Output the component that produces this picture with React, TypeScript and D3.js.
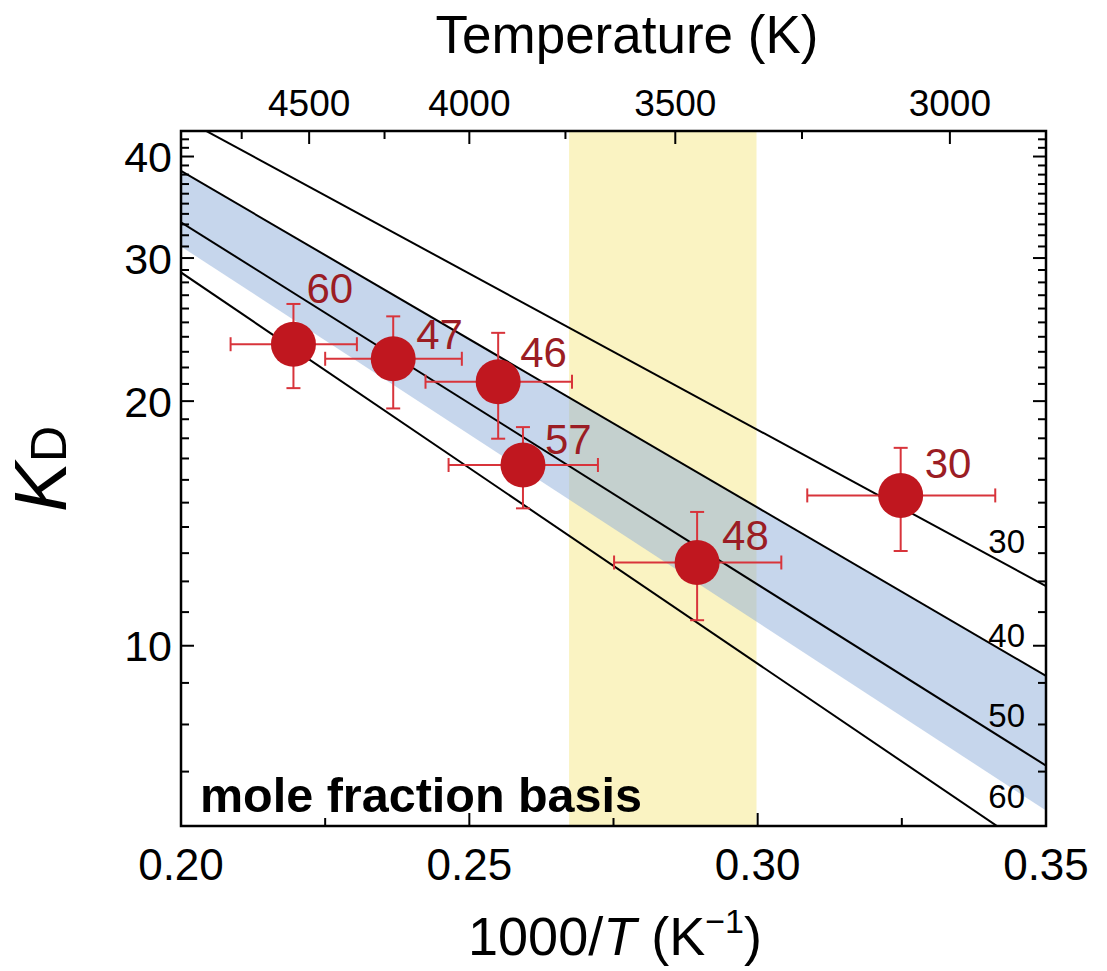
import React from "react";
import * as d3 from "d3";

// Measured partition coefficients (x = 1000/T in K^-1, K_D on a log axis)
const pointLabels = ["60", "47", "46", "57", "48", "30"];
const invT = [0.2195, 0.2368, 0.255, 0.2593, 0.2895, 0.3248];
const invTLow = [0.2086, 0.225, 0.2424, 0.2464, 0.2751, 0.3086];
const invTHigh = [0.2305, 0.2487, 0.2678, 0.2723, 0.3041, 0.3412];
const kd = [23.5, 22.55, 21.13, 16.69, 12.66, 15.31];
const kdLow = [20.75, 19.59, 17.98, 14.76, 10.75, 13.08];
const kdHigh = [26.34, 25.43, 24.27, 18.58, 14.61, 17.52];

// Model trends, K_D at the two ends of the 1000/T range
const trendLabels = ["30", "40", "50", "60"];
const trendInvT = [0.2, 0.35];
const trendStart = [44.7, 38.4, 33.2, 28.8];
const trendEnd = [11.84, 9.18, 7.12, 5.46];

// Uncertainty band: upper edge follows the "40" trend, lower edge below "50"
const bandUpper = [38.4, 9.18];
const bandLower = [31.0, 6.27];

// Highlighted 1000/T interval
const highlightRange = [0.2673, 0.2998];

// Axis ticks
const xMajor = [0.2, 0.25, 0.3, 0.35];
const xMinor = [0.225, 0.275, 0.325];
const tempMajor = [4500, 4000, 3500, 3000];
const tempMinor = [4750, 4250, 3750, 3250];
const yMajor = [10, 20, 30, 40];

// Label nudges relative to each marker (px)
const labelNudge: [number, number][] = [
  [13, -41], [23, -10], [22, -15], [22, -11], [25, -12], [24, -17],
];

const W = 1107;
const H = 971;
const L = 181, R = 1046, T = 131, B = 826;

const FONT = "'Liberation Sans', Arial, Helvetica, sans-serif";

export default function App() {
  const x = d3.scaleLinear().domain([0.2, 0.35]).range([L, R]);
  const y = d3.scaleLog().domain([6, 43]).range([B, T]);

  const yMinor: number[] = [];
  for (let v = 6; v <= 43; v++) if (!yMajor.includes(v)) yMinor.push(v);

  const line = d3
    .line<[number, number]>()
    .x((d) => x(d[0]))
    .y((d) => y(d[1]));

  const bandPts: [number, number][] = [
    [trendInvT[0], bandUpper[0]],
    [trendInvT[1], bandUpper[1]],
    [trendInvT[1], bandLower[1]],
    [trendInvT[0], bandLower[0]],
  ];

  const majorLen = 13;
  const minorLen = 8;
  const cap = 7;
  const errColor = "#d8343b";
  const dotColor = "#c0171f";
  const labelColor = "#9b1d24";

  return (
    <svg
      width={W}
      height={H}
      viewBox={`0 0 ${W} ${H}`}
      style={{ display: "block", background: "#fff", position: "absolute", left: 0, top: 0 }}
    >
      <defs>
        <clipPath id="plotArea">
          <rect x={L} y={T} width={R - L} height={B - T} />
        </clipPath>
      </defs>

      <g clipPath="url(#plotArea)">
        {/* highlighted temperature window */}
        <rect
          x={x(highlightRange[0])}
          y={T}
          width={x(highlightRange[1]) - x(highlightRange[0])}
          height={B - T}
          fill="#faf3c2"
        />
        {/* uncertainty band */}
        <path d={line(bandPts) + "Z"} fill="#8dadd9" fillOpacity={0.5} />
        {/* model trends */}
        {trendLabels.map((t, i) => (
          <path
            key={t}
            d={line([
              [trendInvT[0], trendStart[i]],
              [trendInvT[1], trendEnd[i]],
            ]) ?? ""}
            fill="none"
            stroke="#000"
            strokeWidth={2}
          />
        ))}
      </g>

      {/* trend labels */}
      {trendLabels.map((t, i) => {
        const ys = [553, 647, 727, 808];
        return (
          <text key={t} x={1025} y={ys[i]} textAnchor="end" fontFamily={FONT} fontSize={33} fill="#000">
            {t}
          </text>
        );
      })}

      {/* error bars */}
      {invT.map((v, i) => {
        const cx = x(v);
        const cy = y(kd[i]);
        const x0 = x(invTLow[i]);
        const x1 = x(invTHigh[i]);
        const y0 = y(kdLow[i]);
        const y1 = y(kdHigh[i]);
        return (
          <g key={i} stroke={errColor} strokeWidth={2} fill="none">
            <line x1={x0} x2={x1} y1={cy} y2={cy} />
            <line x1={x0} x2={x0} y1={cy - cap} y2={cy + cap} />
            <line x1={x1} x2={x1} y1={cy - cap} y2={cy + cap} />
            <line x1={cx} x2={cx} y1={y0} y2={y1} />
            <line x1={cx - cap} x2={cx + cap} y1={y0} y2={y0} />
            <line x1={cx - cap} x2={cx + cap} y1={y1} y2={y1} />
          </g>
        );
      })}

      {/* markers */}
      {invT.map((v, i) => (
        <circle key={i} cx={x(v)} cy={y(kd[i])} r={22.5} fill={dotColor} />
      ))}

      {/* marker labels */}
      {invT.map((v, i) => (
        <text
          key={i}
          x={x(v) + labelNudge[i][0]}
          y={y(kd[i]) + labelNudge[i][1]}
          fontFamily={FONT}
          fontSize={42}
          fill={labelColor}
        >
          {pointLabels[i]}
        </text>
      ))}

      {/* frame */}
      <rect x={L} y={T} width={R - L} height={B - T} fill="none" stroke="#000" strokeWidth={2.5} />

      {/* bottom ticks in 1000/T */}
      {xMajor.map((v) => (
        <line key={"bM" + v} x1={x(v)} x2={x(v)} y1={B} y2={B - majorLen} stroke="#000" strokeWidth={2} />
      ))}
      {xMinor.map((v) => (
        <line key={"bm" + v} x1={x(v)} x2={x(v)} y1={B} y2={B - minorLen} stroke="#000" strokeWidth={2} />
      ))}
      {xMajor.map((v) => (
        <text
          key={"bl" + v}
          x={x(v)}
          y={880}
          textAnchor="middle"
          fontFamily={FONT}
          fontSize={44}
          fill="#000"
        >
          {v.toFixed(2)}
        </text>
      ))}

      {/* top axis in temperature */}
      {tempMajor.map((t) => (
        <line key={"tM" + t} x1={x(1000 / t)} x2={x(1000 / t)} y1={T} y2={T + majorLen} stroke="#000" strokeWidth={2} />
      ))}
      {tempMinor.map((t) => (
        <line key={"tm" + t} x1={x(1000 / t)} x2={x(1000 / t)} y1={T} y2={T + minorLen} stroke="#000" strokeWidth={2} />
      ))}
      {tempMajor.map((t) => (
        <text
          key={"tl" + t}
          x={x(1000 / t)}
          y={116}
          textAnchor="middle"
          fontFamily={FONT}
          fontSize={37}
          fill="#000"
        >
          {t}
        </text>
      ))}

      {/* left / right log ticks */}
      {yMajor.map((v) => (
        <g key={"yM" + v} stroke="#000" strokeWidth={2}>
          <line x1={L} x2={L + majorLen} y1={y(v)} y2={y(v)} />
          <line x1={R} x2={R - majorLen} y1={y(v)} y2={y(v)} />
        </g>
      ))}
      {yMinor.map((v) => (
        <g key={"ym" + v} stroke="#000" strokeWidth={2}>
          <line x1={L} x2={L + minorLen} y1={y(v)} y2={y(v)} />
          <line x1={R} x2={R - minorLen} y1={y(v)} y2={y(v)} />
        </g>
      ))}
      {yMajor.map((v) => (
        <text
          key={"yl" + v}
          x={172}
          y={y(v)}
          dy="0.36em"
          textAnchor="end"
          fontFamily={FONT}
          fontSize={43}
          fill="#000"
        >
          {v}
        </text>
      ))}

      {/* annotation */}
      <text x={200} y={812} fontFamily={FONT} fontSize={48.5} fontWeight="bold" fill="#000">
        mole fraction basis
      </text>

      {/* axis titles */}
      <text x={627} y={53} textAnchor="middle" fontFamily={FONT} fontSize={53} fill="#000">
        Temperature (K)
      </text>
      <text x={615} y={955} textAnchor="middle" fontFamily={FONT} fontSize={54} fill="#000">
        1000/<tspan fontStyle="italic">T</tspan> (K
        <tspan fontSize={34} dy={-22}>−1</tspan>
        <tspan dy={22}>)</tspan>
      </text>
      <text transform="translate(66,469) rotate(-90)" textAnchor="middle" fontFamily={FONT} fill="#000">
        <tspan fontSize={75} fontStyle="italic">K</tspan>
        <tspan fontSize={50}>D</tspan>
      </text>
    </svg>
  );
}
